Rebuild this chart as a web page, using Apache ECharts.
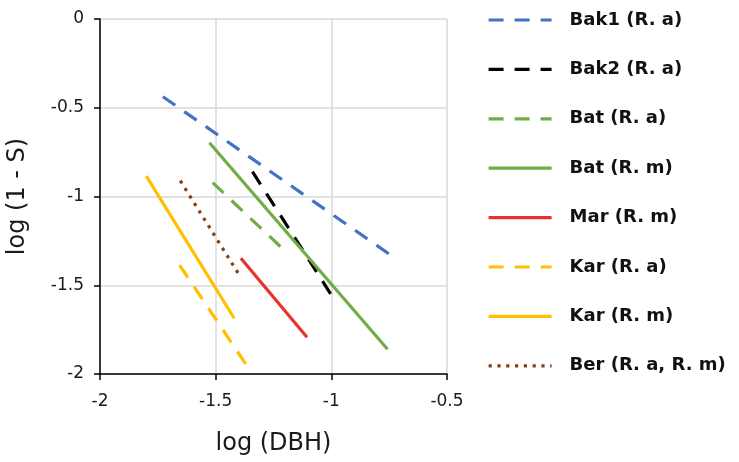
<!DOCTYPE html>
<html>
<head>
<meta charset="utf-8">
<script src="https://cdn.jsdelivr.net/npm/echarts@6/dist/echarts.min.js"></script>
<style>
  html, body { margin: 0; padding: 0; background: #fff; }
  #chart { width: 739px; height: 462px; }
</style>
</head>
<body>
<div id="chart"></div>
<script>
// Fitted regression lines: log(1 - S) against log(DBH), start and end of each line
const seriesNames = ['Bak1 (R. a)', 'Bak2 (R. a)', 'Bat (R. a)', 'Bat (R. m)', 'Mar (R. m)', 'Kar (R. a)', 'Kar (R. m)', 'Ber (R. a, R. m)'];
const logDBH = [
  [-1.728, -0.740],
  [-1.341, -0.986],
  [-1.513, -1.205],
  [-1.527, -0.757],
  [-1.391, -1.105],
  [-1.656, -1.370],
  [-1.800, -1.420],
  [-1.653, -1.398]
];
const logOneMinusS = [
  [-0.438, -1.333],
  [-0.860, -1.583],
  [-0.922, -1.301],
  [-0.697, -1.861],
  [-1.348, -1.793],
  [-1.386, -1.944],
  [-0.885, -1.686],
  [-0.911, -1.442]
];
const lineColors = ['#4472C4', '#000000', '#70AD47', '#70AD47', '#E8322A', '#FFC000', '#FFC000', '#8B3E0F'];
const dashKinds = ['dash', 'dash', 'dash', 'solid', 'solid', 'dash', 'solid', 'dot'];

const dashArrays = { dash: [15, 11], solid: 'solid', dot: [3.2, 5.6] };

const FONT = 'DejaVu Sans, Verdana, sans-serif';
const LINE_W = 3.2;

const chart = echarts.init(document.getElementById('chart'), null, { renderer: 'canvas' });

const series = seriesNames.map((name, i) => ({
  name: name,
  type: 'line',
  symbol: 'none',
  showSymbol: false,
  silent: true,
  data: logDBH[i].map((x, j) => [x, logOneMinusS[i][j]]),
  lineStyle: {
    color: lineColors[i],
    width: LINE_W,
    type: dashArrays[dashKinds[i]],
    cap: 'butt'
  },
  itemStyle: { color: lineColors[i] }
}));

const axisFont = { fontFamily: FONT, fontSize: 17, color: '#1a1a1a' };

chart.setOption({
  animation: false,
  backgroundColor: '#ffffff',
  grid: { left: 100, right: 292, top: 19, bottom: 88, containLabel: false },
  xAxis: {
    type: 'value',
    min: -2, max: -0.5, interval: 0.5,
    name: 'log (DBH)',
    nameLocation: 'middle',
    nameGap: 58,
    nameTextStyle: { fontFamily: FONT, fontSize: 24, color: '#1a1a1a' },
    axisLine: { show: true, onZero: false, lineStyle: { color: '#000', width: 1.5 } },
    axisTick: { show: true, length: 6, inside: false, lineStyle: { color: '#000', width: 1.5 } },
    axisLabel: Object.assign({ margin: 19 }, axisFont),
    splitLine: { show: true, lineStyle: { color: '#d9d9d9', width: 1.5 } }
  },
  yAxis: {
    type: 'value',
    min: -2, max: 0, interval: 0.5,
    name: 'log (1 - S)',
    nameLocation: 'middle',
    nameGap: 70,
    nameRotate: 90,
    nameTextStyle: { fontFamily: FONT, fontSize: 24, color: '#1a1a1a' },
    axisLine: { show: true, onZero: false, lineStyle: { color: '#000', width: 1.5 } },
    axisTick: { show: true, length: 6, inside: false, lineStyle: { color: '#000', width: 1.5 } },
    axisLabel: Object.assign({ margin: 16 }, axisFont),
    splitLine: { show: true, lineStyle: { color: '#d9d9d9', width: 1.5 } }
  },
  legend: {
    orient: 'vertical',
    left: 487,
    top: 10,
    padding: 0,
    itemWidth: 63,
    itemHeight: 20,
    itemGap: 29.4,
    selectedMode: false,
    data: seriesNames,
    itemStyle: { opacity: 0 },
    lineStyle: { width: LINE_W },
    textStyle: {
      fontFamily: FONT,
      fontSize: 18,
      fontWeight: 'bold',
      color: '#111',
      lineHeight: 20,
      padding: [0, 0, 0, 13]
    }
  },
  series: series
});
</script>
</body>
</html>
